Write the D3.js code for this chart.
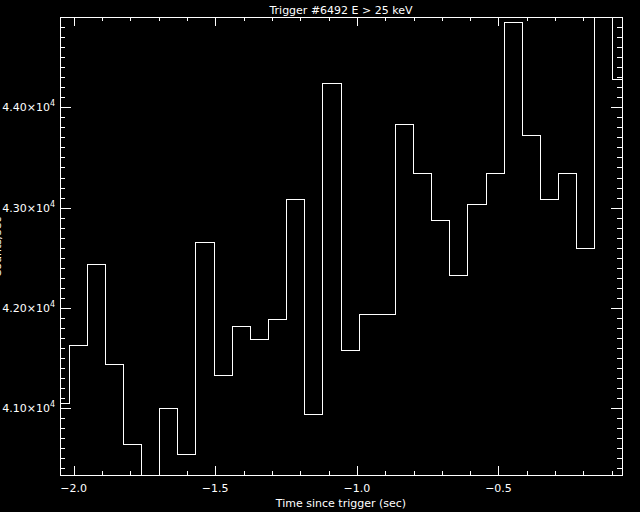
<!DOCTYPE html>
<head>
  <meta charset="utf-8">
  <script src="https://d3js.org/d3.v7.min.js"></script>
  <style>
  body { margin: 0; background: #000; }
  text { fill: #fff; font-family: "DejaVu Sans", sans-serif; font-size: 11px; }
  .tick line, .frame { stroke: #fff; stroke-width: 1px; shape-rendering: crispEdges; }
  .frame { fill: none; }
  path.rate { fill: none; stroke: #fff; stroke-width: 1px; shape-rendering: crispEdges; }
</style>
</head>
<body>
<svg width="640" height="512"></svg>

<script type="text/javascript">
// time of each 64 ms bin (sec since trigger)
var times = [-2.048, -1.984, -1.920, -1.856, -1.792, -1.728, -1.664, -1.600,
             -1.536, -1.472, -1.408, -1.344, -1.280, -1.216, -1.152, -1.088,
             -1.024, -0.960, -0.896, -0.832, -0.768, -0.704, -0.640, -0.576,
             -0.512, -0.448, -0.384, -0.320, -0.256, -0.192, -0.128, -0.064];
// counts per sec
var rates = [41050, 41628, 42435, 41439, 40641, 40200, 41000, 40542,
             42655, 41329, 41817, 41688, 41887, 43083, 40940, 44239,
             41578, 41937, 41937, 43831, 43343, 42874, 42326, 43030,
             43343, 44847, 43721, 43083, 43343, 42595, 45000, 44279];
var xMajor = [-2.0, -1.5, -1.0, -0.5];
var xMinor = [-2.0, -1.9, -1.8, -1.7, -1.6, -1.5, -1.4, -1.3, -1.2, -1.1, -1.0,
              -0.9, -0.8, -0.7, -0.6, -0.5, -0.4, -0.3, -0.2, -0.1];
var yMajor = [41000, 42000, 43000, 44000];
var yMinor = d3.range(40400, 44901, 100);

// plot box edges ("top" is taken by window.top, so short names)
var pL = 60, pR = 622, pT = 17, pB = 475;

var svg = d3.select("svg");

var x = d3.scaleLinear().domain([-2.048, -0.064]).range([pL, pR]);
var y = d3.scaleLinear().domain([40335, 44900]).range([pB, pT]);

svg.append("clipPath").attr("id", "clip")
  .append("rect").attr("x", pL).attr("y", pT)
  .attr("width", pR - pL).attr("height", pB - pT);

// the light curve, drawn as a histogram (steps at the bin midpoints)
svg.append("path")
  .datum(times.map(function(t, i) { return [t, rates[i]]; }))
  .attr("class", "rate")
  .attr("clip-path", "url(#clip)")
  .attr("d", d3.line()
    .x(function(d) { return x(d[0]); })
    .y(function(d) { return y(d[1]); })
    .curve(d3.curveStep));

// ticks, pointing inward on all four sides
function ticks(axis, vals, size) {
  return axis.tickValues(vals).tickSize(-size).tickFormat("");
}
function strip(g) { g.select(".domain").remove(); }

svg.append("g").attr("transform", "translate(0," + pB + ")")
  .call(ticks(d3.axisBottom(x), xMinor, 4)).call(strip);
svg.append("g").attr("transform", "translate(0," + pB + ")")
  .call(ticks(d3.axisBottom(x), xMajor, 9)).call(strip);
svg.append("g").attr("transform", "translate(0," + pT + ")")
  .call(ticks(d3.axisTop(x), xMinor, 4)).call(strip);
svg.append("g").attr("transform", "translate(0," + pT + ")")
  .call(ticks(d3.axisTop(x), xMajor, 9)).call(strip);

svg.append("g").attr("transform", "translate(" + pL + ",0)")
  .call(ticks(d3.axisLeft(y), yMinor, 5)).call(strip);
svg.append("g").attr("transform", "translate(" + pL + ",0)")
  .call(ticks(d3.axisLeft(y), yMajor, 11)).call(strip);
svg.append("g").attr("transform", "translate(" + pR + ",0)")
  .call(ticks(d3.axisRight(y), yMinor, 5)).call(strip);
svg.append("g").attr("transform", "translate(" + pR + ",0)")
  .call(ticks(d3.axisRight(y), yMajor, 11)).call(strip);

svg.append("rect").attr("class", "frame")
  .attr("x", pL + 0.5).attr("y", pT + 0.5)
  .attr("width", pR - pL).attr("height", pB - pT);

// x tick labels
svg.selectAll(".xlab").data(xMajor).enter().append("text")
  .attr("x", function(d) { return x(d); })
  .attr("y", 492)
  .attr("text-anchor", "middle")
  .text(d3.format(".1f"));

// y tick labels like 4.40x10^4
var ylab = svg.selectAll(".ylab").data(yMajor).enter().append("text")
  .attr("x", 55)
  .attr("y", function(d) { return y(d) + 4; })
  .attr("text-anchor", "end");
ylab.append("tspan").text(function(d) { return d3.format(".2f")(d / 1e4) + "\u00d710"; });
ylab.append("tspan").attr("dy", -5).attr("font-size", "8px").text("4");

svg.append("text")
  .attr("x", 341).attr("y", 14)
  .attr("text-anchor", "middle")
  .text("Trigger #6492 E > 25 keV");

svg.append("text")
  .attr("x", 341).attr("y", 507)
  .attr("text-anchor", "middle")
  .text("Time since trigger (sec)");

// y title sits mostly off the left edge
svg.append("text")
  .attr("transform", "translate(0.5,247) rotate(-90)")
  .attr("text-anchor", "middle")
  .text("Counts/sec");
</script>

</body>
</html>
